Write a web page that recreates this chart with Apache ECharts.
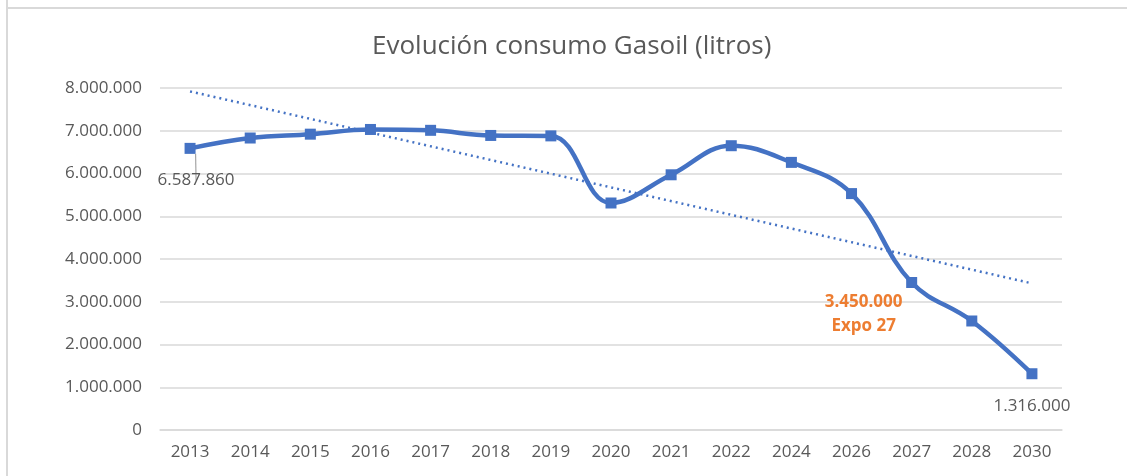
<!DOCTYPE html>
<html>
<head>
<meta charset="utf-8">
<script src="https://cdn.jsdelivr.net/npm/echarts@6/dist/echarts.min.js"></script>
<style>
html,body{margin:0;padding:0;background:#fff;}
#chart{width:1127px;height:476px;}
</style>
</head>
<body>
<div id="chart"></div>
<script>
const categories = ['2013','2014','2015','2016','2017','2018','2019','2020','2021','2022','2024','2026','2027','2028','2030'];
const consumo = [6587860, 6830000, 6920000, 7030000, 7010000, 6890000, 6880000, 5310000, 5970000, 6650000, 6260000, 5530000, 3450000, 2550000, 1316000];
const trendEnds = [7920000, 3430000];
const yTicks = [0, 1000000, 2000000, 3000000, 4000000, 5000000, 6000000, 7000000, 8000000];

const TXT = '#595959';
const BLUE = '#4472C4';
const FONT = '"Open Sans", "Noto Sans", sans-serif';

function fmt(v) {
  return String(v).replace(/\B(?=(\d{3})+(?!\d))/g, '.');
}

const lineData = consumo.map((v, i) => {
  const item = { value: v };
  if (i === 0) {
    item.label = { show: true, position: 'bottom', distance: 18, offset: [6, 0], color: TXT, fontSize: 17, fontFamily: FONT, formatter: fmt(v) };
    item.labelLine = { show: true, lineStyle: { color: '#A6A6A6', width: 1.2 } };
  } else if (categories[i] === '2027') {
    item.label = { show: true, position: 'bottom', distance: 2, offset: [-48, 0], color: '#ED7D31', fontWeight: 'bold', fontSize: 17, lineHeight: 24, fontFamily: FONT, formatter: fmt(v) + '\nExpo 27' };
    item.labelLine = { show: false };
  } else if (i === consumo.length - 1) {
    item.label = { show: true, position: 'bottom', distance: 18, color: TXT, fontSize: 17, fontFamily: FONT, formatter: fmt(v) };
    item.labelLine = { show: false };
  }
  return item;
});

const trendData = categories.map((c, i) => i === 0 ? trendEnds[0] : (i === categories.length - 1 ? trendEnds[1] : null));

const chart = echarts.init(document.getElementById('chart'));
chart.setOption({
  animation: false,
  backgroundColor: '#ffffff',
  title: {
    text: 'Evolución consumo Gasoil (litros)',
    left: 367,
    top: 29,
    textStyle: { color: TXT, fontSize: 26, fontWeight: 'normal', fontFamily: FONT }
  },
  graphic: [
    { type: 'line', shape: { x1: 7, y1: 0, x2: 7, y2: 476 }, style: { stroke: '#D9D9D9', lineWidth: 2 } },
    { type: 'line', shape: { x1: 6, y1: 8, x2: 1127, y2: 8 }, style: { stroke: '#D9D9D9', lineWidth: 2 } }
  ],
  grid: { left: 160, right: 65, top: 88, bottom: 46, containLabel: false },
  xAxis: {
    type: 'category',
    data: categories,
    boundaryGap: true,
    axisLine: { show: true, lineStyle: { color: '#D9D9D9', width: 1.5 } },
    axisTick: { show: false },
    axisLabel: { color: TXT, fontSize: 17, fontFamily: FONT, margin: 14 }
  },
  yAxis: {
    type: 'value',
    min: yTicks[0],
    max: yTicks[yTicks.length - 1],
    interval: yTicks[1] - yTicks[0],
    axisLine: { show: false },
    axisTick: { show: false },
    axisLabel: { color: TXT, fontSize: 17, fontFamily: FONT, margin: 18, formatter: v => fmt(v) },
    splitLine: { lineStyle: { color: '#D9D9D9', width: 1.5 } }
  },
  series: [
    {
      type: 'line',
      data: trendData,
      connectNulls: true,
      showSymbol: false,
      symbol: 'none',
      lineStyle: { color: BLUE, width: 2.5, type: [2, 4] },
      z: 2,
      silent: true
    },
    {
      type: 'line',
      data: lineData,
      smooth: 0.4,
      symbol: 'rect',
      symbolSize: 11,
      itemStyle: { color: BLUE },
      lineStyle: { color: BLUE, width: 4.5 },
      z: 3
    }
  ]
});
</script>
</body>
</html>
